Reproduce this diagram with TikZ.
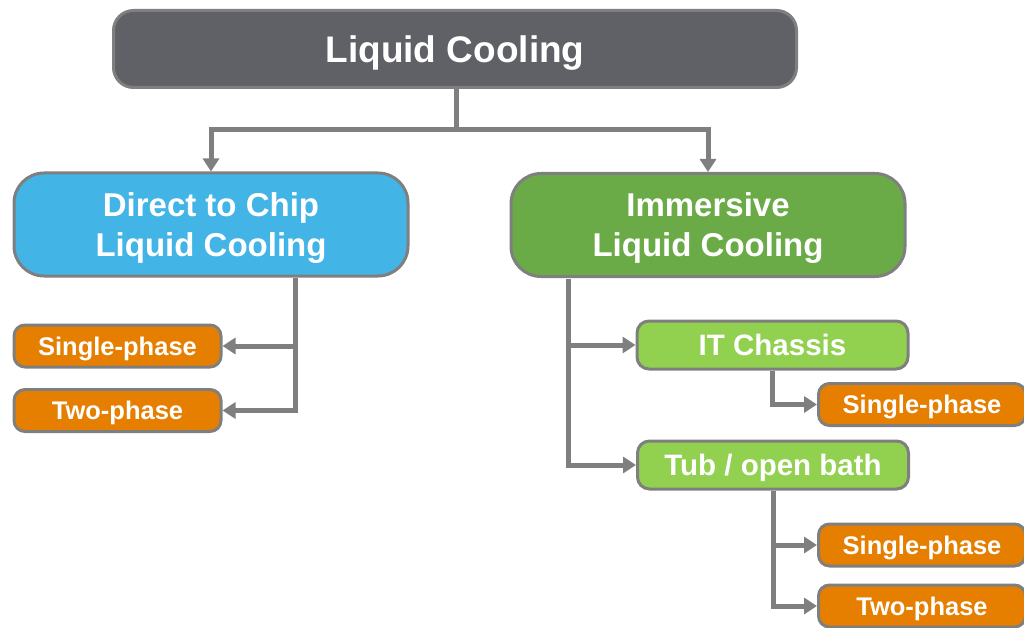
\documentclass[tikz,border=0pt]{standalone}
\usepackage{fontspec}
\setmainfont{Liberation Sans}
\usetikzlibrary{arrows.meta}
\definecolor{topgray}{HTML}{606166}
\definecolor{edgegray}{HTML}{7F7F7F}
\definecolor{dtcblue}{HTML}{42B4E6}
\definecolor{imgreen}{HTML}{6AAB47}
\definecolor{ltgreen}{HTML}{92D050}
\definecolor{orangebox}{HTML}{E67E00}
\tikzset{
  box/.style={draw=edgegray, line width=3pt, text=white, font=\bfseries, align=center, inner sep=0pt, text depth=0pt},
  topbox/.style={box, fill=topgray, rounded corners=20pt, minimum width=683pt, minimum height=77pt, font=\bfseries\fontsize{37}{44}\selectfont},
  midbox/.style={box, rounded corners=30pt, minimum width=394pt, minimum height=103pt, font=\bfseries\fontsize{33}{40}\selectfont},
  subbox/.style={box, fill=ltgreen, rounded corners=12pt, minimum width=271pt, minimum height=48pt, font=\bfseries\fontsize{29.5}{34}\selectfont},
  leafbox/.style={box, fill=orangebox, rounded corners=11pt, minimum width=207pt, minimum height=42pt, font=\bfseries\fontsize{25.5}{30}\selectfont},
  conn/.style={draw=edgegray, line width=5pt, -{Triangle[length=13pt,width=16pt]}},
  plain/.style={draw=edgegray, line width=5pt}
}
\begin{document}
\begin{tikzpicture}[x=1pt,y=-1pt]
\useasboundingbox (0,0) rectangle (1024,628);
\node[topbox] (top) at (455,49) {Liquid Cooling};
\node[midbox, fill=dtcblue] (dtc) at (211,224.5) {Direct to Chip\\Liquid Cooling};
\node[midbox, fill=imgreen] (imm) at (708,225) {Immersive\\Liquid Cooling};
\node[leafbox] (ls) at (117.5,346) {Single-phase};
\node[leafbox] (lt) at (117.5,410.5) {Two-phase};
\node[subbox] (itc) at (772.5,345) {IT Chassis};
\node[subbox] (tub) at (773,465) {Tub / open bath};
\node[leafbox] (is) at (922,404.5) {Single-phase};
\node[leafbox] (ts) at (922,545) {Single-phase};
\node[leafbox] (tt) at (922,606) {Two-phase};
\coordinate (tj) at (456,130);
\coordinate (dj) at (295,278);
\coordinate (ij) at (568,279);
\draw[plain] (top.south -| tj) -- (tj);
\draw[conn] (tj) -| (dtc.north);
\draw[conn] (tj) -| (imm.north);
\draw[conn] (dj) |- (ls.east);
\draw[conn] (dj) |- (lt.east);
\draw[conn] (ij) |- (itc.west);
\draw[conn] (ij) |- (tub.west);
\draw[conn] (itc.south) |- (is.west);
\draw[conn] (tub.south) |- (ts.west);
\draw[conn] (tub.south) |- (tt.west);
\end{tikzpicture}
\end{document}
